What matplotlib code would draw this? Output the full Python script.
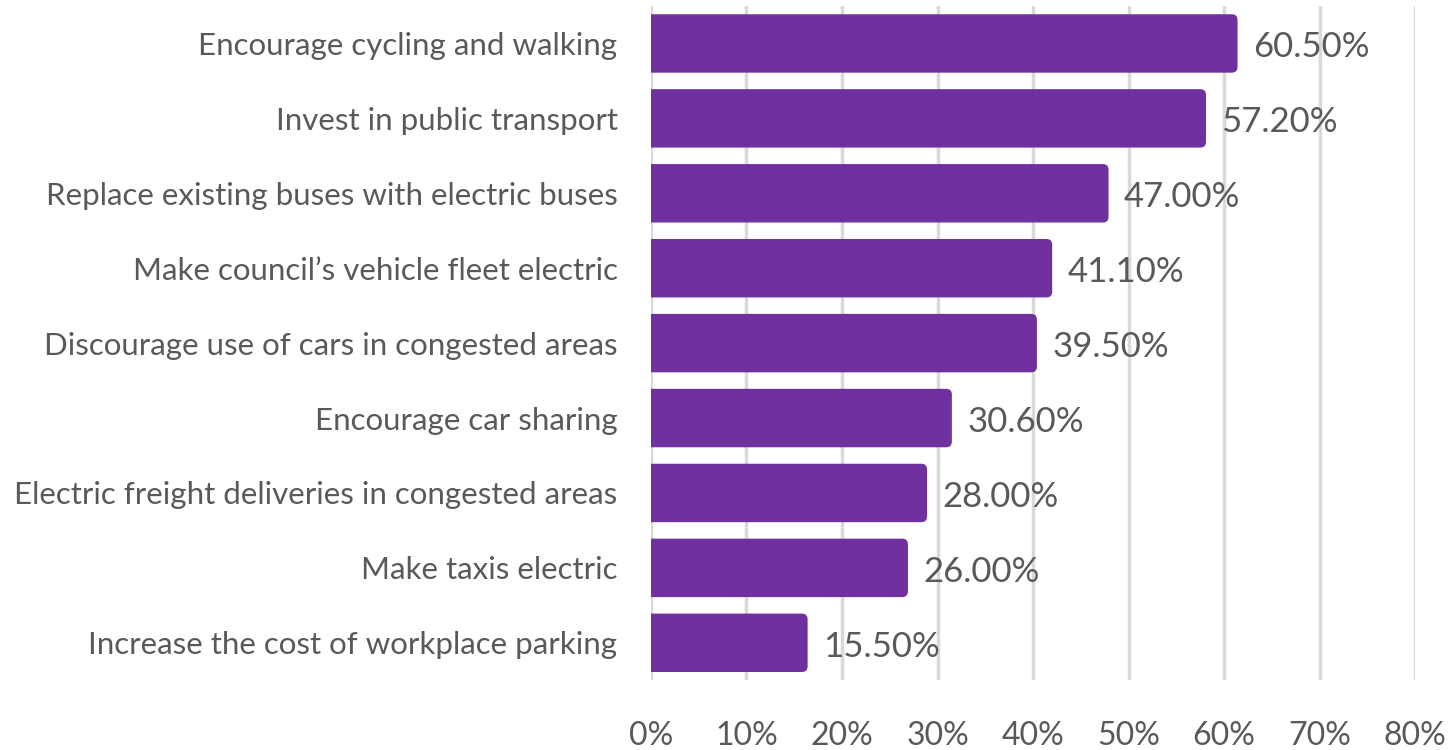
import matplotlib.pyplot as plt
from matplotlib.patches import FancyBboxPatch
from matplotlib.ticker import FuncFormatter, MultipleLocator

plt.rcParams["font.family"] = ["Lato", "DejaVu Sans"]

categories = [
    "Encourage cycling and walking",
    "Invest in public transport",
    "Replace existing buses with electric buses",
    "Make council\u2019s vehicle fleet electric",
    "Discourage use of cars in congested areas",
    "Encourage car sharing",
    "Electric freight deliveries in congested areas",
    "Make taxis electric",
    "Increase the cost of workplace parking",
]
values = [60.5, 57.2, 47.0, 41.1, 39.5, 30.6, 28.0, 26.0, 15.5]

BAR = "#7030A0"
GREY = "#595959"

fig = plt.figure(figsize=(14.53, 7.5), dpi=100)
ax = fig.add_axes([0.448, 0.093, 0.526, 0.899])

ys = list(range(len(categories)))
# rounded bar ends like the Excel original; left side is clipped at 0
pad = 0.9
aspect = 0.1275
inner_h = 0.78 - 2 * pad * aspect
for y, v in zip(ys, values):
    ax.add_patch(FancyBboxPatch((0, y - inner_h / 2), v, inner_h,
                                boxstyle=f"round,pad={pad},rounding_size=0.6",
                                mutation_aspect=aspect, facecolor=BAR,
                                edgecolor="none", zorder=3))
    ax.text(v + 2.5, y + 0.05, f"{v:.2f}%", va="center", ha="left",
            fontsize=25, color=GREY, zorder=4)

ax.set_xlim(0, 80)
ax.set_ylim(len(categories) - 0.5, -0.5)
ax.set_yticks(ys)
ax.set_yticklabels(categories, fontsize=22.5, color=GREY)
ax.xaxis.set_major_locator(MultipleLocator(10))
ax.xaxis.set_major_formatter(FuncFormatter(lambda x, _: f"{x:.0f}%"))
ax.tick_params(axis="x", labelsize=23, labelcolor=GREY, length=0, pad=29)
ax.tick_params(axis="y", length=0, pad=24)

ax.grid(axis="x", color="#d9d9d9", linewidth=2.5, zorder=0)
for s in ax.spines.values():
    s.set_visible(False)

fig.savefig("out.png", dpi=100)
